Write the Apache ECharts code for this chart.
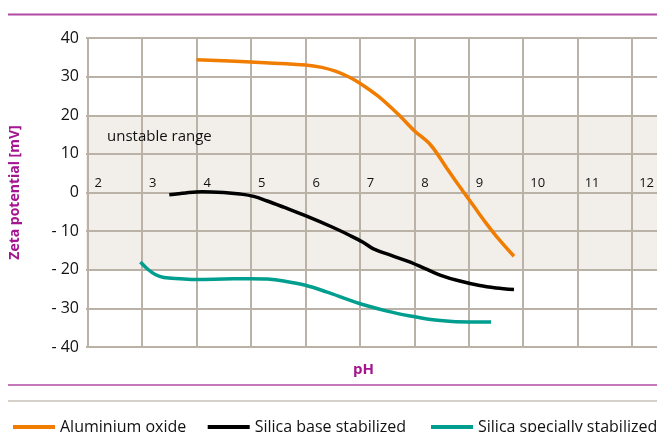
<!DOCTYPE html>
<html>
<head>
<meta charset="utf-8">
<script src="https://cdn.jsdelivr.net/npm/echarts@6/dist/echarts.min.js"></script>
<style>html,body{margin:0;padding:0;background:#fff;}#c{width:657px;height:432px;}</style>
</head>
<body>
<div id="c"></div>
<script>
// pH ticks
var xTicks = [2, 3, 4, 5, 6, 7, 8, 9, 10, 11, 12];
var yTicks = [-40, -30, -20, -10, 0, 10, 20, 30, 40];
var seriesNames = ['Aluminium oxide', 'Silica base stabilized', 'Silica specially stabilized'];

// [pH, zeta potential mV]
var aluminiumOxide = [[4.0,34.4],[5.0,33.8],[6.0,33.0],[6.3,32.4],[6.55,31.4],[6.8,29.9],[7.0,28.3],[7.33,25.0],[7.7,20.3],[8.0,16.0],[8.3,12.3],[8.6,6.2],[8.9,0.2],[9.1,-3.7],[9.3,-7.6],[9.5,-11.2],[9.83,-16.5]];
var silicaBase = [[3.5,-0.6],[3.8,-0.1],[4.1,0.2],[4.5,0.0],[4.8,-0.4],[5.05,-1.0],[5.3,-2.2],[5.6,-3.8],[6.0,-6.0],[6.5,-9.0],[6.8,-11.0],[7.05,-12.8],[7.25,-14.6],[7.6,-16.4],[7.9,-17.9],[8.2,-19.7],[8.5,-21.5],[8.8,-22.8],[9.2,-24.1],[9.5,-24.7],[9.83,-25.1]];
var silicaSpecial = [[2.97,-18.0],[3.1,-19.8],[3.25,-21.3],[3.4,-22.0],[3.7,-22.3],[4.0,-22.5],[4.5,-22.4],[5.0,-22.3],[5.3,-22.4],[5.6,-22.9],[6.0,-24.0],[6.4,-25.8],[6.8,-27.8],[7.1,-29.2],[7.5,-30.7],[7.9,-31.9],[8.3,-32.9],[8.7,-33.4],[9.0,-33.5],[9.41,-33.5]];

var FONT = '"Open Sans", "Noto Sans", sans-serif';
var GRID_COLOR = '#bab1a7';
var PURPLE = '#a3168f';
var colors = ['#f07d00', '#000000', '#009e8f'];
var GRID_TOP = 38, GRID_BOTTOM = 85, HEIGHT = 432;

var chart = echarts.init(document.getElementById('c'), null, {renderer: 'canvas'});
function legendCfg(name, left) {
  return {
    data: [name], left: left, top: 414, orient: 'horizontal',
    icon: 'rect', itemWidth: 42, itemHeight: 4,
    selectedMode: false,
    textStyle: {fontFamily: FONT, fontSize: 16, color: '#111', padding: [0, 0, 9, 0]}
  };
}
var option = {
  animation: false,
  backgroundColor: '#fff',
  grid: [
    {left: 87.6, right: 21, top: GRID_TOP, bottom: GRID_BOTTOM},
    {left: 82, right: 0, top: GRID_TOP, bottom: GRID_BOTTOM}
  ],
  title: [
    {text: 'unstable range', left: 102, top: 124, textStyle: {fontFamily: FONT, fontSize: 15, fontWeight: 'normal', color: '#111'}},
    {text: 'pH', left: 348, top: 357, textStyle: {fontFamily: FONT, fontSize: 15, fontWeight: 'bold', color: PURPLE}}
  ],
  legend: [
    legendCfg(seriesNames[0], 8),
    legendCfg(seriesNames[1], 202.7),
    legendCfg(seriesNames[2], 426)
  ],
  xAxis: [
    {
      gridIndex: 0, type: 'value', min: xTicks[0], max: xTicks[xTicks.length - 1], interval: 1,
      position: 'bottom',
      // axis sits at zeta = 0, i.e. the middle of the symmetric -40..40 range
      offset: -(HEIGHT - GRID_TOP - GRID_BOTTOM) / 2,
      axisLine: {show: false, onZero: false},
      axisTick: {show: false},
      axisLabel: {inside: true, margin: 3, align: 'left', padding: [0, 0, 0, 7], showMaxLabel: true, showMinLabel: true,
        fontFamily: FONT, fontSize: 13, color: '#111'},
      splitLine: {show: true, lineStyle: {color: GRID_COLOR, width: 2}},
      z: 1
    },
    {gridIndex: 1, type: 'value', min: 0, max: 1, show: false}
  ],
  yAxis: [
    {gridIndex: 0, type: 'value', min: yTicks[0], max: yTicks[yTicks.length - 1], interval: 10,
      axisLine: {show: false}, axisTick: {show: false}, axisLabel: {show: false}, splitLine: {show: false}},
    {
      gridIndex: 1, type: 'value', min: yTicks[0], max: yTicks[yTicks.length - 1], interval: 10,
      axisLine: {show: false}, axisTick: {show: false},
      axisLabel: {margin: 7, fontFamily: FONT, fontSize: 16, color: '#111',
        formatter: function (v) { return v < 0 ? '- ' + (-v) : String(v); }},
      splitLine: {show: true, lineStyle: {color: GRID_COLOR, width: 2}},
      splitArea: {show: true, areaStyle: {color: ['#ffffff', '#ffffff', '#f2efea', '#f2efea', '#f2efea', '#f2efea', '#ffffff', '#ffffff']}},
      name: 'Zeta potential [mV]', nameLocation: 'middle', nameRotate: 90, nameGap: 64,
      nameTextStyle: {fontFamily: FONT, fontSize: 14, fontWeight: 'bold', color: PURPLE}
    }
  ],
  series: [
    {name: seriesNames[0], type: 'line', xAxisIndex: 0, yAxisIndex: 0, data: aluminiumOxide, smooth: 0.35, showSymbol: false,
      lineStyle: {color: colors[0], width: 3.5}, itemStyle: {color: colors[0]}},
    {name: seriesNames[1], type: 'line', xAxisIndex: 0, yAxisIndex: 0, data: silicaBase, smooth: 0.35, showSymbol: false,
      lineStyle: {color: colors[1], width: 3.5}, itemStyle: {color: colors[1]}},
    {name: seriesNames[2], type: 'line', xAxisIndex: 0, yAxisIndex: 0, data: silicaSpecial, smooth: 0.35, showSymbol: false,
      lineStyle: {color: colors[2], width: 3.5}, itemStyle: {color: colors[2]}}
  ],
  graphic: [
    {type: 'line', shape: {x1: 8, y1: 14.5, x2: 657, y2: 14.5}, style: {stroke: '#b04aa5', lineWidth: 2}},
    {type: 'line', shape: {x1: 8, y1: 385, x2: 657, y2: 385}, style: {stroke: '#b04aa5', lineWidth: 1.5}},
    {type: 'line', shape: {x1: 8, y1: 401, x2: 657, y2: 401}, style: {stroke: '#c9c1b9', lineWidth: 1.5}}
  ]
};
chart.setOption(option);
</script>
</body>
</html>
